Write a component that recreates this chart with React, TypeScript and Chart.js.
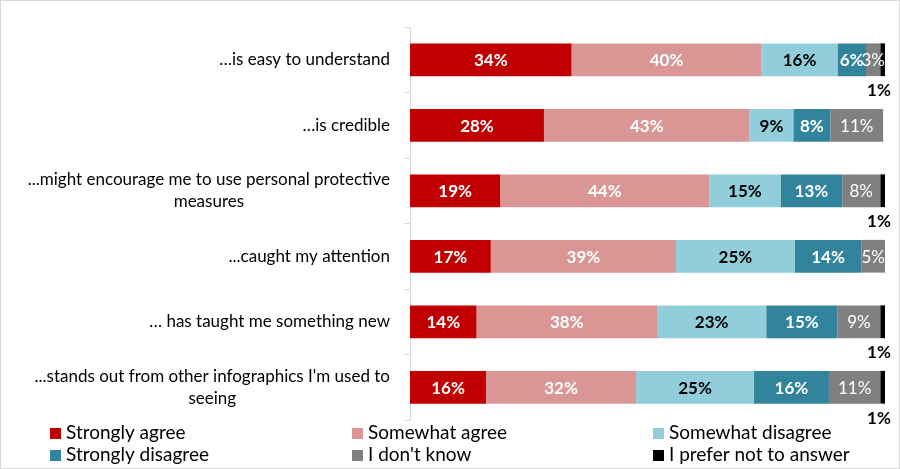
import { useEffect, useRef } from 'react';
import { Chart, registerables } from 'chart.js';
Chart.register(...registerables);

const categories: string[][] = [
  ['…is easy to understand'],
  ['…is credible'],
  ['...might encourage me to use personal protective', 'measures'],
  ['...caught my attention'],
  ['… has taught me something new'],
  ["...stands out from other infographics I'm used to", 'seeing'],
];
const seriesNames = ['Strongly agree', 'Somewhat agree', 'Somewhat disagree', 'Strongly disagree', "I don't know", 'I prefer not to answer'];
const stronglyAgree = [34, 28.2, 19, 17, 14, 16];
const somewhatAgree = [40, 43.3, 44, 39, 38, 31.6];
const somewhatDisagree = [16, 9.2, 15, 25, 23, 24.8];
const stronglyDisagree = [6, 7.8, 13, 14, 15, 15.8];
const dontKnow = [3, 11.1, 8, 5, 9, 10.8];
const preferNot = [1, 0, 1, 0, 1, 1];

const colors = ['#C00000', '#DA9694', '#92CDDC', '#31849B', '#808080', '#000000'];
const labelColors = ['#FFFFFF', '#FFFFFF', '#000000', '#FFFFFF', '#FFFFFF', '#000000'];
const labelWeights = ['bold', 'bold', 'bold', 'bold', 'normal', 'bold'];
const FONT = 'Lato, "Open Sans", sans-serif';

export default function App() {
  const ref = useRef<HTMLCanvasElement>(null);
  useEffect(() => {
    document.body.style.margin = '0';
    const values = [stronglyAgree, somewhatAgree, somewhatDisagree, stronglyDisagree, dontKnow, preferNot];

    const labelPlugin = {
      id: 'labels',
      afterDatasetsDraw(chart: any) {
        const ctx = chart.ctx;
        ctx.save();
        ctx.textBaseline = 'middle';
        chart.data.datasets.forEach((ds: any, i: number) => {
          const meta = chart.getDatasetMeta(i);
          meta.data.forEach((el: any, j: number) => {
            const v = ds.data[j];
            if (!v) return;
            const txt = `${Math.round(v)}%`;
            if (i === 5) {
              ctx.font = `bold 17px ${FONT}`;
              ctx.fillStyle = '#000';
              ctx.textAlign = 'center';
              ctx.fillText(txt, el.x - 6, el.y + 31);
              return;
            }
            ctx.font = `${labelWeights[i]} 17px ${FONT}`;
            ctx.fillStyle = labelColors[i];
            ctx.textAlign = 'center';
            ctx.fillText(txt, (el.x + el.base) / 2, el.y + 1);
          });
        });
        ctx.restore();
      },
      afterDraw(chart: any) {
        const ctx = chart.ctx;
        const ys = chart.scales.y;
        ctx.save();
        ctx.font = `17px ${FONT}`;
        ctx.fillStyle = '#000';
        ctx.textAlign = 'center';
        ctx.textBaseline = 'middle';
        const right = chart.chartArea.left - 20;
        const lh = 22;
        (chart.data.labels as string[][]).forEach((lines, i) => {
          const y = ys.getPixelForTick(i);
          const w = Math.max(...lines.map((l) => ctx.measureText(l).width));
          const cx = right - w / 2;
          lines.forEach((l, k) => {
            ctx.fillText(l, cx, y - ((lines.length - 1) * lh) / 2 + k * lh);
          });
        });
        // legend
        const colX = [49, 351, 652];
        const rowY = [433, 455];
        ctx.font = `19px ${FONT}`;
        ctx.textAlign = 'left';
        chart.data.datasets.forEach((ds: any, i: number) => {
          const x = colX[i % 3];
          const y = rowY[Math.floor(i / 3)] - 1;
          ctx.fillStyle = ds.backgroundColor;
          ctx.fillRect(x, y - 5, 11, 11);
          ctx.fillStyle = '#000';
          ctx.fillText(ds.label, x + 16, y);
        });
        ctx.restore();
      },
    };

    const chart = new Chart(ref.current!, {
      type: 'bar',
      data: {
        labels: categories,
        datasets: values.map((d, i) => ({
          label: seriesNames[i],
          data: d,
          backgroundColor: colors[i],
          borderWidth: 0,
          barPercentage: 0.5,
          categoryPercentage: 1,
        })),
      },
      options: {
        indexAxis: 'y',
        animation: false,
        responsive: false,
        maintainAspectRatio: false,
        layout: { padding: { top: 26, right: 14, bottom: 48, left: 0 } },
        plugins: { legend: { display: false }, tooltip: { enabled: false } },
        scales: {
          x: { stacked: true, min: 0, max: 100, display: false },
          y: {
            stacked: true,
            ticks: { display: false },
            grid: { offset: true, drawOnChartArea: false, drawTicks: true, tickLength: 6, color: '#D9D9D9' },
            border: { display: true, color: '#D9D9D9' },
            afterFit(scale: any) {
              scale.width = 409;
            },
          },
        },
      },
      plugins: [labelPlugin],
    });
    return () => chart.destroy();
  }, []);
  return (
    <div style={{ width: 900, height: 469, boxSizing: 'border-box', border: '1px solid #D9D9D9', background: '#fff' }}>
      <canvas ref={ref} width={898} height={467} style={{ display: 'block' }} />
    </div>
  );
}
